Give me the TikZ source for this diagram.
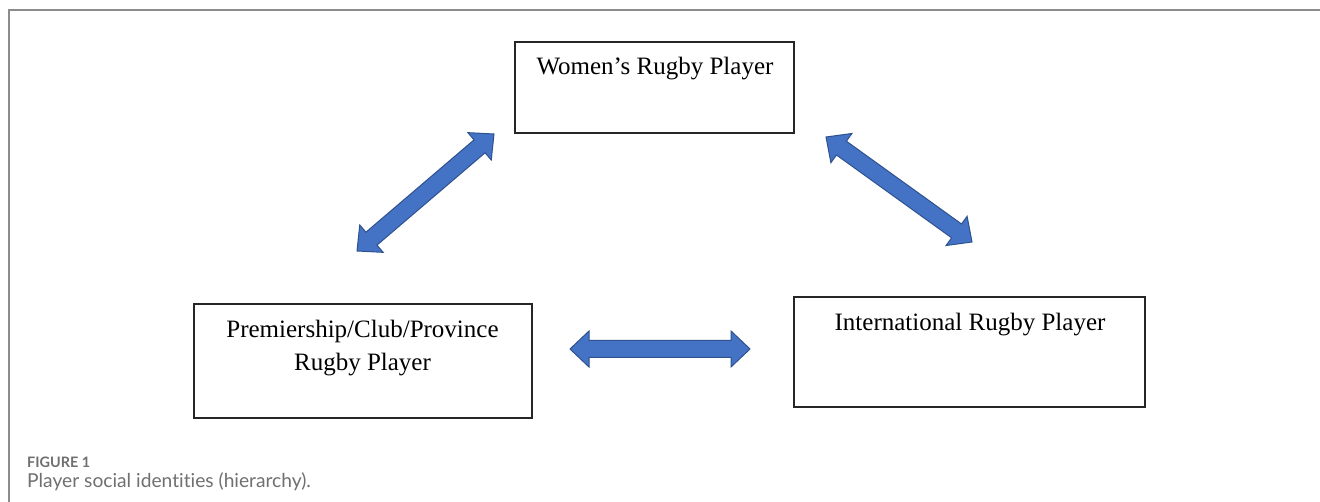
\documentclass[tikz,border=0pt]{standalone}
\usepackage{fontspec}
\setmainfont{Liberation Serif}
\newfontfamily\capfont[Ligatures=NoCommon]{Lato}
\usetikzlibrary{calc}

\definecolor{arrowfill}{HTML}{4472C4}
\definecolor{arrowedge}{HTML}{2F528F}
\definecolor{framegray}{HTML}{8C8C8C}
\definecolor{captiongray}{HTML}{707070}
\definecolor{boxline}{HTML}{262626}

% double-headed block arrow between two named coordinates
\newcommand\blockarrow[2]{%
  \coordinate (ba-p) at ($(#1)!19pt!(#2)$);
  \coordinate (ba-q) at ($(#2)!19pt!(#1)$);
  \filldraw[blockarrowstyle]
    (#1) -- ($(ba-p)!18pt!90:(#2)$) -- ($(ba-p)!8.5pt!90:(#2)$)
    -- ($(ba-q)!8.5pt!-90:(#1)$) -- ($(ba-q)!18pt!-90:(#1)$)
    -- (#2) -- ($(ba-q)!18pt!90:(#1)$) -- ($(ba-q)!8.5pt!90:(#1)$)
    -- ($(ba-p)!8.5pt!-90:(#2)$) -- ($(ba-p)!18pt!-90:(#2)$) -- cycle;
}

\tikzset{
  idbox/.style={draw=boxline, line width=1.4pt, rectangle, inner sep=0pt},
  idtext/.style={font=\fontsize{25}{33}\selectfont, align=center, inner sep=0pt, anchor=base, text=black},
  blockarrowstyle/.style={fill=arrowfill, draw=arrowedge, line width=1pt, line join=miter},
  figlabel/.style={font=\capfont\bfseries\fontsize{14.4}{17}\selectfont, text=captiongray, anchor=base west, inner sep=0pt},
  figcaption/.style={font=\capfont\fontsize{19.2}{22}\selectfont, text=captiongray, anchor=base west, inner sep=0pt},
}

\begin{document}
\begin{tikzpicture}[x=1pt, y=-1pt]
  \useasboundingbox (0,0) rectangle (1320,502);
  \fill[white] (0,0) rectangle (1320,502);

  % figure frame
  \draw[framegray, line width=1.5pt] (9,502) -- (9,10) -- (1320,10);

  % identity boxes
  \node[idbox, minimum width=279pt, minimum height=91pt] (women) at (654.5,87.5) {};
  \node[idbox, minimum width=338pt, minimum height=114pt] (club) at (363,361) {};
  \node[idbox, minimum width=351pt, minimum height=110pt] (intl) at (969.5,352) {};

  % labels (base anchor sits on the last line's baseline)
  \node[idtext] (womentext) at (655,75) {Women’s Rugby Player};
  \node[idtext] (clubtext) at (362.5,371) {Premiership/Club/Province\\Rugby Player};
  \node[idtext] (intltext) at (970,331) {International Rugby Player};

  % arrow end points
  \coordinate (wc-a) at (357,251);
  \coordinate (wc-b) at (494,134);
  \coordinate (wi-a) at (826,137);
  \coordinate (wi-b) at (972,242);
  \coordinate (ci-a) at (570,349);
  \coordinate (ci-b) at (750,349);

  \blockarrow{wc-a}{wc-b}
  \blockarrow{wi-a}{wi-b}
  \blockarrow{ci-a}{ci-b}

  % caption
  \node[figlabel] (figno) at (27,467) {FIGURE 1};
  \node[figcaption] (figcap) at (27,487) {Player social identities (hierarchy).};
\end{tikzpicture}
\end{document}
